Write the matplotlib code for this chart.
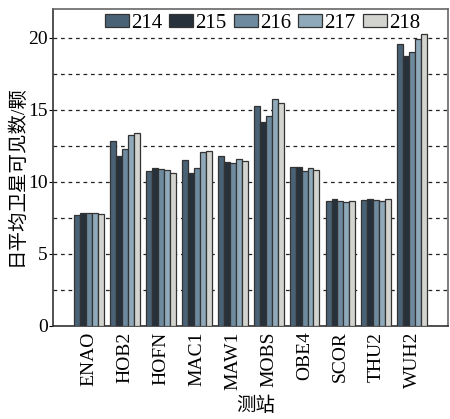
import numpy as np
import matplotlib
matplotlib.use('Agg')
import matplotlib.pyplot as plt

plt.rcParams['font.family'] = ['Liberation Serif', 'Noto Sans CJK SC']
plt.rcParams['font.size'] = 12

stations = ['ENAO', 'HOB2', 'HOFN', 'MAC1', 'MAW1', 'MOBS', 'OBE4', 'SCOR', 'THU2', 'WUH2']
days = ['214', '215', '216', '217', '218']

d214 = [7.71, 12.80, 10.76, 11.50, 11.76, 15.23, 11.02, 8.66, 8.75, 19.58]
d215 = [7.87, 11.80, 10.93, 10.63, 11.37, 14.14, 11.06, 8.80, 8.82, 18.75]
d216 = [7.87, 12.27, 10.88, 10.95, 11.30, 14.56, 10.78, 8.68, 8.75, 19.03]
d217 = [7.83, 13.28, 10.81, 12.08, 11.60, 15.76, 10.95, 8.59, 8.70, 19.90]
d218 = [7.76, 13.38, 10.60, 12.17, 11.44, 15.46, 10.83, 8.70, 8.80, 20.23]
series = [d214, d215, d216, d217, d218]

colors = ['#4a6275', '#27313b', '#6d8a9e', '#8fa9ba', '#d3d3cf']

fig = plt.figure(figsize=(4.5, 4.19), dpi=100)
ax = fig.add_axes([0.118, 0.222, 0.878, 0.757])

x = np.arange(len(stations))
w = 0.166
for i, (vals, c) in enumerate(zip(series, colors)):
    ax.bar(x + (i - 2) * w, vals, w, color=c, edgecolor='#333333',
           linewidth=0.9, label=days[i], zorder=3)

ax.set_xlim(-1, 10)
ax.set_ylim(0, 22)
ax.set_yticks([0, 5, 10, 15, 20])
ax.set_yticks(np.arange(2.5, 22, 2.5), minor=True)
ax.yaxis.grid(True, which='both', linestyle=(0, (3, 3)), color='#222222',
              linewidth=0.9, zorder=0)
ax.set_axisbelow(True)
ax.tick_params(axis='y', which='major', direction='out', length=3, labelsize=14, pad=1)
ax.tick_params(axis='y', which='minor', length=0)
ax.tick_params(axis='x', length=0, labelsize=14, pad=4)
ax.set_xticks(x)
ax.set_xticklabels(stations, rotation=90)

for s in ['left', 'bottom']:
    ax.spines[s].set_color('#333333')
    ax.spines[s].set_linewidth(1.2)
for s in ['top', 'right']:
    ax.spines[s].set_color('#666666')
    ax.spines[s].set_linewidth(1.2)

# axis titles placed in figure coords
fig.text(0.036, 0.582, '日平均卫星可见数/颗', fontsize=14, rotation=90,
         ha='center', va='center')
fig.text(0.569, 0.031, '测站', fontsize=14, ha='center', va='center')

ax.legend(loc='center', bbox_to_anchor=(0.53, 0.955), ncol=5, frameon=False,
          handlelength=1.15, handleheight=0.6, handletextpad=0.1,
          columnspacing=0.35, fontsize=15, borderaxespad=0)

fig.savefig('out.png', dpi=100)
